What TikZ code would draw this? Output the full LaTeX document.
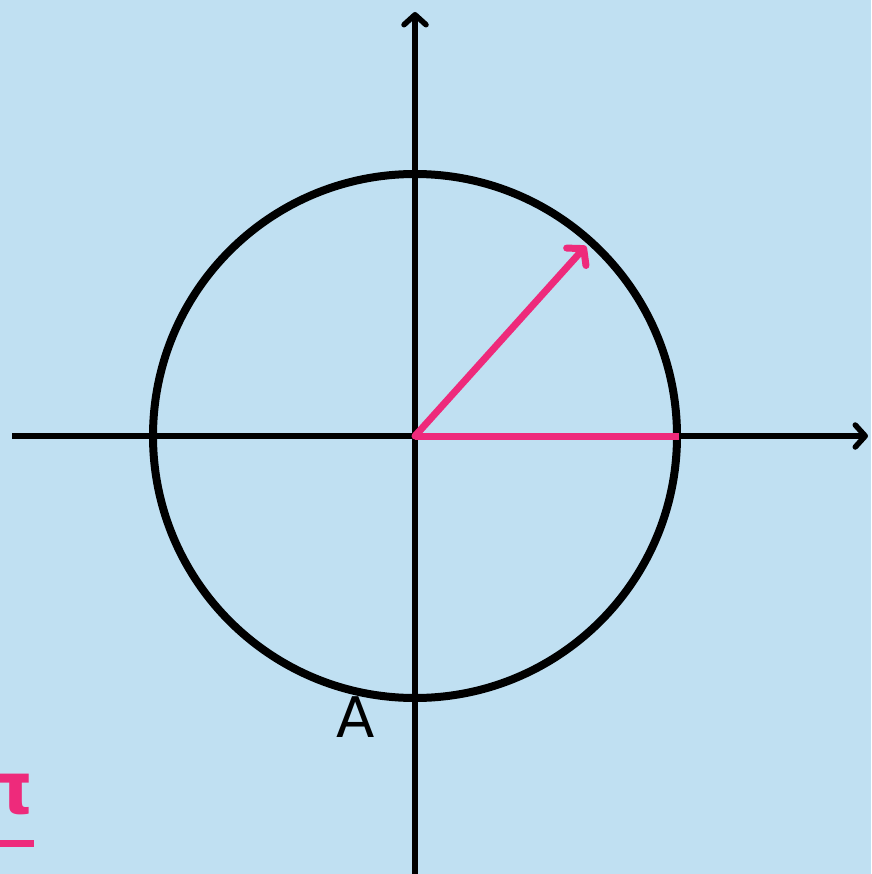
\documentclass[tikz,border=0pt]{standalone}
\usepackage{fontspec}
\setmainfont{DejaVu Sans}
\usetikzlibrary{arrows.meta}
\definecolor{bgblue}{HTML}{C0E0F2}
\definecolor{pinkc}{HTML}{EE2A7B}
\begin{document}
\begin{tikzpicture}[x=1pt,y=-1pt,
  axis/.style={line width=5.5pt,-{Straight Barb[length=10pt,width=22pt,line cap=round,line join=round]}},
  rim/.style={line width=8pt},
  vec/.style={line width=7pt,pinkc}]
\fill[bgblue] (0,0) rectangle (871,874);
\useasboundingbox (0,0) rectangle (871,874);
\coordinate (O) at (415,436);
\coordinate (L) at (12,436);
\coordinate (R) at (868,436);
\coordinate (B) at (415,874);
\coordinate (T) at (415,12);
\coordinate (E) at (679,436);
\coordinate (P) at (586,246);
\draw[axis] (L) -- (R);
\draw[axis] (B) -- (T);
\draw[rim] (O) circle[radius=262];
\draw[vec] (O) -- (E);
\draw[vec,line cap=round,-{Straight Barb[length=11pt,width=26pt,line cap=round,line join=round]}] (O) -- (P);
\node[font=\fontsize{56}{60}\selectfont,inner sep=0pt,anchor=base] (A) at (356,737) {A};
\node[font=\fontsize{72}{76}\selectfont\bfseries,text=pinkc,inner sep=0pt,anchor=base east] (pi) at (34,813) {π};
\coordinate (u1) at (0,843);
\coordinate (u2) at (34,843);
\draw[pinkc,line width=7pt] (u1) -- (u2);
\end{tikzpicture}
\end{document}
